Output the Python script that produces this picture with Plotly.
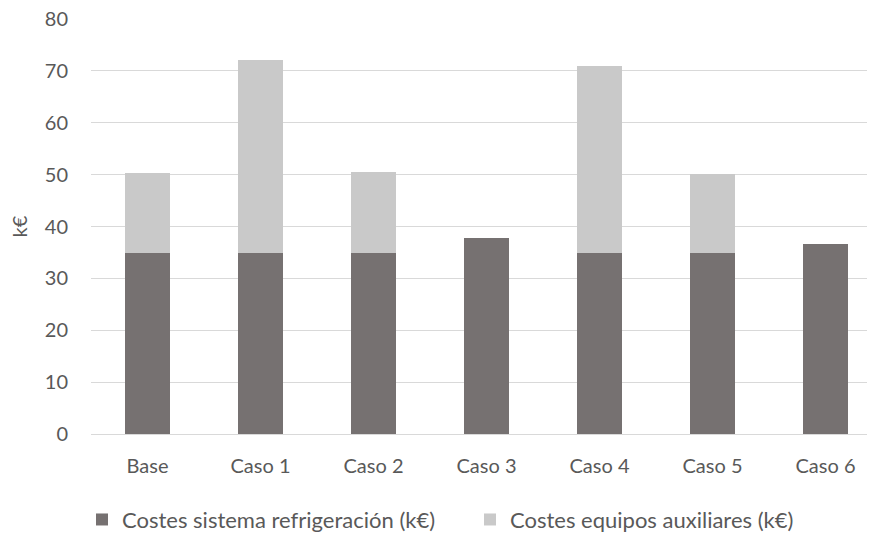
import plotly.graph_objects as go

categorias = ["Base", "Caso 1", "Caso 2", "Caso 3", "Caso 4", "Caso 5", "Caso 6"]
costes_refrigeracion = [34.8, 34.8, 34.8, 37.8, 34.8, 34.8, 36.7]
costes_auxiliares = [15.6, 37.3, 15.7, 0.0, 36.1, 15.3, 0.0]

serie_refrigeracion = "Costes sistema refrigeración (k€)"
serie_auxiliares = "Costes equipos auxiliares (k€)"

fuente = "Lato"
gris_texto = "#595959"
tam = 20

fig = go.Figure()
fig.add_trace(go.Bar(
    x=categorias, y=costes_refrigeracion, name=serie_refrigeracion,
    marker=dict(color="#767171", line=dict(width=0)), legend="legend",
))
fig.add_trace(go.Bar(
    x=categorias, y=costes_auxiliares, name=serie_auxiliares,
    marker=dict(color="#C9C9C9", line=dict(width=0)), legend="legend2",
))

leyenda = dict(
    orientation="h", xanchor="left", xref="container",
    y=0.025, yanchor="middle", yref="container",
    font=dict(family=fuente, size=22, color=gris_texto),
    itemwidth=30, bgcolor="rgba(0,0,0,0)",
)

fig.update_layout(
    barmode="stack",
    bargap=0.6,
    width=869, height=533,
    margin=dict(l=91, r=2, t=19, b=99),
    paper_bgcolor="white", plot_bgcolor="white",
    font=dict(family=fuente, size=tam, color=gris_texto),
    showlegend=True,
    legend=dict(leyenda, x=82 / 869),
    legend2=dict(leyenda, x=470 / 869),
    xaxis=dict(
        range=[-0.5, 6.367], showgrid=False, showline=False, zeroline=False,
        ticks="", ticklabelstandoff=18, automargin=False,
        tickfont=dict(size=tam, color=gris_texto),
    ),
    yaxis=dict(
        range=[0, 80], dtick=10, showgrid=True, gridcolor="#D9D9D9", gridwidth=1,
        zeroline=True, zerolinecolor="#D9D9D9", zerolinewidth=1,
        showline=False, ticks="", ticklabelstandoff=22, automargin=False,
        tickfont=dict(size=tam, color=gris_texto),
        title=dict(text="k€", font=dict(size=tam, color=gris_texto), standoff=11),
    ),
)

fig.write_html("out.html")
